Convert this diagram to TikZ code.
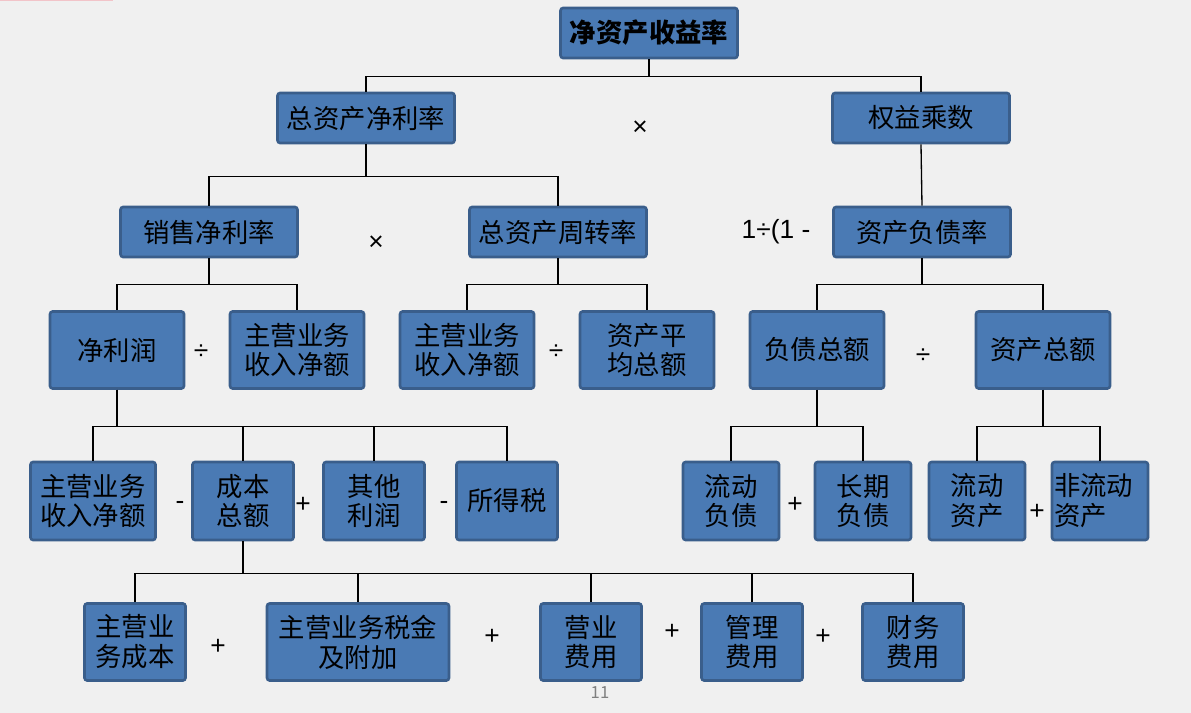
\documentclass[tikz,border=0pt]{standalone}
\usepackage{fontspec}
\setmainfont{Noto Sans CJK SC}
\newfontfamily\opfont{Liberation Sans}
\usetikzlibrary{positioning}
\definecolor{SlideGray}{HTML}{F0F0F0}
\definecolor{BoxBlue}{HTML}{4A7AB4}
\definecolor{EdgeBlue}{HTML}{3A5E8B}
\definecolor{MarkPink}{HTML}{F2C4C9}

\begin{document}
\begin{tikzpicture}[x=0.02cm, y=-0.02cm,
  every node/.style={font=\fontsize{15}{17}\selectfont},
  box/.style={draw=EdgeBlue, line width=1.5pt, fill=BoxBlue, rounded corners=1.5pt,
              align=center, inner sep=1pt},
  kpi/.style={box, minimum width=3.54cm, minimum height=1.0cm},
  ratio/.style={box, minimum width=2.68cm, minimum height=1.54cm},
  part/.style={box, minimum width=2.02cm, minimum height=1.56cm},
  leaf/.style={box, minimum width=1.92cm, minimum height=1.56cm},
  op/.style={inner sep=0pt, font=\opfont\fontsize{15}{17}\selectfont},
  link/.style={draw=black, line width=0.75pt}]

  % ---- slide background ----
  \fill[SlideGray] (0,0) rectangle (1191,713);
  \useasboundingbox (0,0) rectangle (1191,713);
  \fill[MarkPink] (0,0) rectangle (113,1.5);

  % ===== level 1 / 2 =====
  \node[kpi] (roe) at (649,33)  {\bfseries 净资产收益率};
  \node[kpi] (roa) at (366,118) {总资产净利率};
  \node[kpi] (em)  at (921,118) {权益乘数};
  \node[op]  (x1)  at (640,128) {×};

  % ===== level 3 =====
  \node[kpi] (npm) at (209,232) {销售净利率};
  \node[kpi] (tat) at (558,232) {总资产周转率};
  \node[kpi] (dar) at (922,232) {资产负债率};
  \node[op]  (x2)  at (376,243) {×};
  \node[op]  (inv) at (776,232) {1÷(1 -};

  % ===== level 4 =====
  \node[ratio] (np)    at (117,350)  {净利润};
  \node[ratio] (rev1)  at (297,350)  {主营业务\\收入净额};
  \node[ratio] (rev2)  at (467,350)  {主营业务\\收入净额};
  \node[ratio] (avg)   at (647,350)  {资产平\\均总额};
  \node[ratio] (debt)  at (817,350)  {负债总额};
  \node[ratio] (asset) at (1043,350) {资产总额};
  \node[op] (d1) at (201,352) {÷};
  \node[op] (d2) at (556,352) {÷};
  \node[op] (d3) at (923,356) {÷};

  % ===== level 5 =====
  \node[part, minimum width=2.5cm] (rev3) at (93,501) {主营业务\\收入净额};
  \node[part]  (cost)  at (243,501)  {成本\\总额};
  \node[part]  (other) at (374,501)  {其他\\利润};
  \node[part]  (tax)   at (507,501)  {所得税};
  \node[leaf]  (cl)    at (731,501)  {流动\\负债};
  \node[leaf]  (ld)    at (863,501)  {长期\\负债};
  \node[leaf]  (ca)    at (977,501)  {流动\\资产};
  \node[leaf, align=left, text width=1.84cm, inner xsep=0.04cm] (nca) at (1100,501) {非流动\\资产};
  \node[op] (m1) at (180,505)  {-};
  \node[op] (p1) at (303,505)  {+};
  \node[op] (m2) at (444,505)  {-};
  \node[op] (p2) at (795,505)  {+};
  \node[op] (p3) at (1037,512) {+};

  % ===== level 6 =====
  \node[part, minimum height=1.54cm] (cogs)   at (135,642) {主营业\\务成本};
  \node[part, minimum height=1.54cm, minimum width=3.64cm] (surtax) at (358,642) {主营业务税金\\及附加};
  \node[part, minimum height=1.54cm] (sell)   at (591,642) {营业\\费用};
  \node[part, minimum height=1.54cm] (admin)  at (752,642) {管理\\费用};
  \node[part, minimum height=1.54cm] (fin)    at (913,642) {财务\\费用};
  \node[op] (p4) at (218,647) {+};
  \node[op] (p5) at (492,637) {+};
  \node[op] (p6) at (672,632) {+};
  \node[op] (p7) at (823,637) {+};

  % ===== tree links =====
  \draw[link] (roe.south) -- ++(0,17) -| (roa.north);
  \draw[link] (roe.south) -- ++(0,17) -| (em.north);
  \draw[link] (roa.south) -- ++(0,32) -| (npm.north);
  \draw[link] (roa.south) -- ++(0,32) -| (tat.north);
  \draw[link] (em.south) -- (dar.north);
  \draw[link] (npm.south) -- ++(0,26) -| (np.north);
  \draw[link] (npm.south) -- ++(0,26) -| (rev1.north);
  \draw[link] (tat.south) -- ++(0,26) -| (rev2.north);
  \draw[link] (tat.south) -- ++(0,26) -| (avg.north);
  \draw[link] (dar.south) -- ++(0,26) -| (debt.north);
  \draw[link] (dar.south) -- ++(0,26) -| (asset.north);
  \foreach \c in {rev3,cost,other,tax}
    \draw[link] (np.south) -- ++(0,37) -| (\c.north);
  \foreach \c in {cl,ld}
    \draw[link] (debt.south) -- ++(0,37) -| (\c.north);
  \foreach \c in {ca,nca}
    \draw[link] (asset.south) -- ++(0,37) -| (\c.north);
  \foreach \c in {cogs,surtax,sell,admin,fin}
    \draw[link] (cost.south) -- ++(0,32) -| (\c.north);

  % ---- page number ----
  \node[text=black!50, font=\fontsize{9.5}{11}\selectfont] (pnum) at (600,693) {11};

\end{tikzpicture}
\end{document}
